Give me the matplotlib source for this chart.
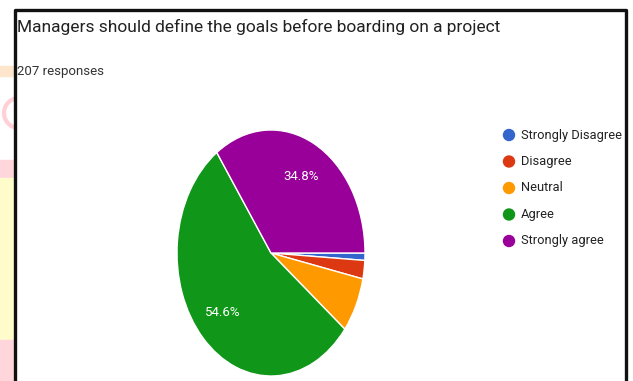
import matplotlib.pyplot as plt
from matplotlib.patches import Rectangle, Circle, Arc

categories = ['Strongly Disagree', 'Disagree', 'Neutral', 'Agree', 'Strongly agree']
responses = [2, 5, 15, 113, 72]
colors = ['#3366cc', '#dc3912', '#ff9900', '#109618', '#990099']
title = 'Managers should define the goals before boarding on a project'
subtitle = '207 responses'

plt.rcParams['font.family'] = ['Roboto', 'DejaVu Sans']

W, H = 633, 381
fig = plt.figure(figsize=(W / 100, H / 100), dpi=100)
fig.patch.set_facecolor('white')


def px(x, y):
    # pixel position (from top-left) to figure fraction
    return x / W, 1 - y / H


# coloured strip on the left edge
strip = [(160, 178, '#ffd6dc'), (178, 340, '#fffccc'), (340, 381, '#ffd6dc')]
for y0, y1, c in strip:
    fig.patches.append(Rectangle(px(0, y1), 14 / W, (y1 - y0) / H,
                                 transform=fig.transFigure, color=c, zorder=0))
fig.patches.append(Rectangle(px(0, 76), 14 / W, 10 / H, transform=fig.transFigure,
                             color='#fde6cc', zorder=0))
fig.add_artist(Arc((19, H - 113), 30, 30, theta1=105, theta2=255, transform=None,
                   color='#ffd0d6', lw=3))

# card border (left, top, right)
x0, x1, yt = 15, 626, 10
fig.add_artist(plt.Line2D([x0 / W, x0 / W, x1 / W, x1 / W], [0, 1 - yt / H, 1 - yt / H, 0],
                          transform=fig.transFigure, color='#111111', lw=2.4))

fig.text(*px(17, 32), title, fontsize=12.5, color='#222222', va='baseline')
fig.text(*px(17, 75), subtitle, fontsize=9.5, color='#333333', va='baseline')

# pie (drawn as an ellipse, taller than wide)
ax = fig.add_axes([177 / W, 5 / H, 188 / W, 246 / H])


def pct(p):
    return f'{p:.1f}%' if p > 10 else ''


ax.pie(responses, colors=colors, startangle=0, counterclock=False,
       autopct=pct, pctdistance=0.7, radius=1, frame=True,
       wedgeprops=dict(edgecolor='white', linewidth=1),
       textprops=dict(color='white', fontsize=9.5))
ax.set_xlim(-1, 1)
ax.set_ylim(-1, 1)
ax.set_aspect('auto')
ax.axis('off')

# legend
for i, (name, c) in enumerate(zip(categories, colors)):
    y = 135 + i * 26.5
    fig.add_artist(Circle((509, H - y), 5.5, transform=None, color=c))
    fig.text(*px(521, y), name, fontsize=9.3, color='#222222', va='center')

fig.savefig('out.png', dpi=100)
